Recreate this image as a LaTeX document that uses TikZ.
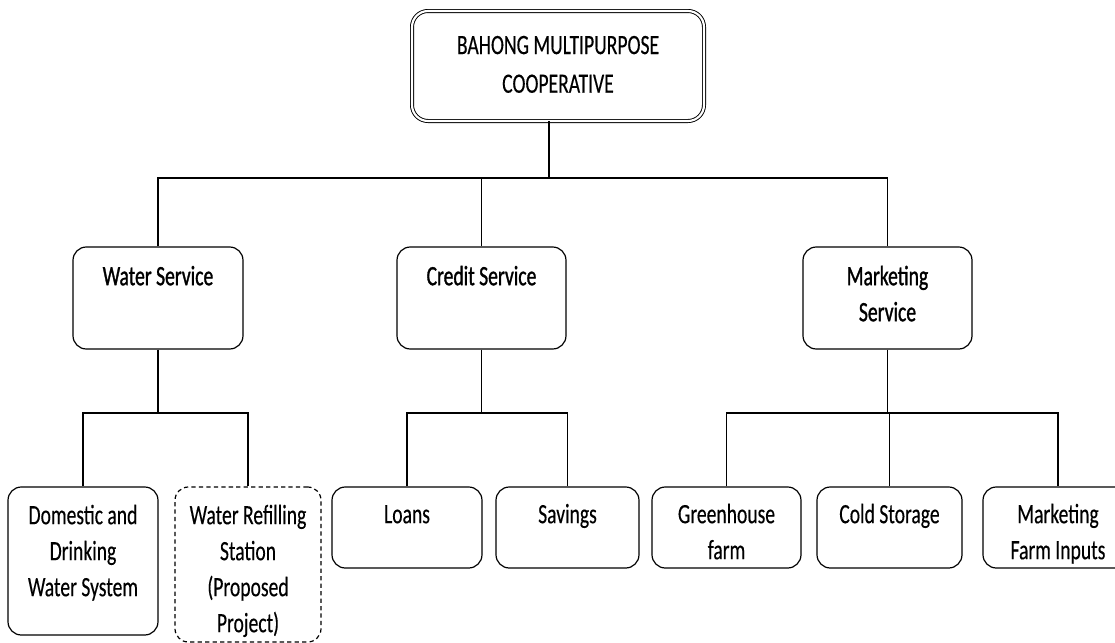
\documentclass[tikz,border=0pt]{standalone}
\usepackage{fontspec}
\setmainfont[FakeStretch=0.7,FakeBold=0.3]{Carlito}
\newfontfamily\midfont[FakeStretch=0.7,FakeBold=1.1]{Carlito}
\newlength\pxu
\setlength\pxu{0.75pt}
\newcommand{\mybox}[4]{\parbox[c][#2\pxu][t]{#1\pxu}{\centering\vspace*{#3\pxu}\strut#4\par}}
\begin{document}
\begin{tikzpicture}[x=0.75pt,y=-0.75pt,
  every node/.style={font=\fontsize{21pt}{27pt}\selectfont},
  box/.style={draw, line width=0.9pt, rounded corners=10pt, inner sep=0pt},
  midbox/.style={box, font=\midfont\fontsize{21pt}{27pt}\selectfont},
  topbox/.style={draw, line width=0.7pt, double, double distance=1.6pt, rounded corners=12pt, inner sep=0pt},
  dashedbox/.style={box, dash pattern=on 3.2pt off 2.4pt},
  conn/.style={draw, line width=0.8pt}]
\useasboundingbox (0,0) rectangle (1115,643);
\clip (0,0) rectangle (1115,643);
% top
\node[topbox] (top) at (558,66) {\fontsize{21pt}{29pt}\selectfont\mybox{292}{110}{16}{BAHONG MULTIPURPOSE\\COOPERATIVE}};
% level 2
\node[midbox] (w) at (158,298) {\mybox{170}{102}{13}{Water Service}};
\node[midbox] (c) at (481.5,298) {\mybox{169}{102}{13}{Credit Service}};
\node[midbox] (m) at (887.5,298) {\mybox{169}{102}{13}{Marketing\\Service}};
% level 3
\node[box] (d) at (83,561) {\mybox{150}{148}{12}{Domestic and\\Drinking\\Water System}};
\node[dashedbox] (r) at (248,564.5) {\mybox{146}{155}{12}{Water Refilling\\Station\\(Proposed\\Project)}};
\node[box] (l) at (407,527.5) {\mybox{150}{81}{11}{Loans}};
\node[box] (s) at (567.5,527.5) {\mybox{143}{81}{11}{Savings}};
\node[box] (g) at (726.5,527.5) {\mybox{149}{81}{11}{Greenhouse\\farm}};
\node[box] (cs) at (889.5,527.5) {\mybox{145}{81}{11}{Cold Storage}};
\node[box] (mf) at (1058,527.5) {\mybox{150}{81}{11}{Marketing\\Farm Inputs}};
% bus coordinates
\coordinate (b1) at (549,178);
\coordinate (bw) at (158,413);
\coordinate (bc) at (481.5,413);
\coordinate (bm) at (887.5,413);
% connectors
\draw[conn] (b1 |- top.south) -- (b1);
\draw[conn] (w.north) |- (b1) -| (m.north);
\draw[conn] (c.north) -- (c.north |- b1);
\draw[conn] (w.south) -- (bw);
\draw[conn] (d.north) |- (bw) -| (r.north);
\draw[conn] (c.south) -- (bc);
\draw[conn] (l.north) |- (bc) -| (s.north);
\draw[conn] (m.south) -- (bm);
\draw[conn] (g.north) |- (bm) -| (mf.north);
\draw[conn] (cs.north) -- (cs.north |- bm);
\end{tikzpicture}
\end{document}
